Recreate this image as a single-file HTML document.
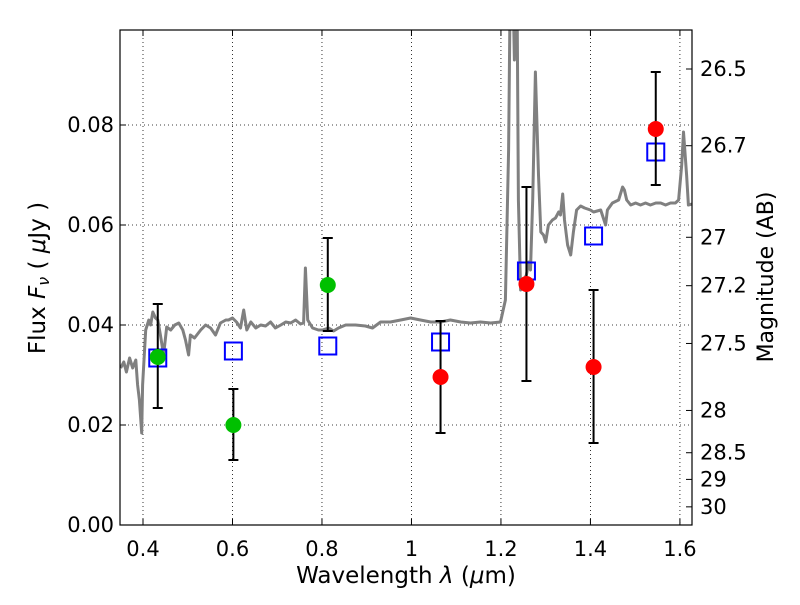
<!DOCTYPE html>
<html><head><meta charset="utf-8"><style>
body{margin:0;background:#fff}
svg text{font-family:"DejaVu Sans","Liberation Sans",sans-serif;fill:#000}
</style></head><body>
<svg id="chart" width="800" height="600" xmlns="http://www.w3.org/2000/svg">
<defs><clipPath id="clip"><rect x="120" y="30" width="572" height="495"/></clipPath></defs>
<rect x="0" y="0" width="800" height="600" fill="#fff"/>
<g id="grid"></g>
<g id="spec" clip-path="url(#clip)"></g>
<g id="marks" clip-path="url(#clip)"></g>
<rect x="120" y="30" width="572" height="495" fill="none" stroke="#000" stroke-width="1.2"/>
<g id="axes"></g>
<text x="406" y="583" text-anchor="middle" font-size="23">Wavelength  <tspan font-style="italic">λ</tspan> (<tspan font-style="italic">μ</tspan>m)</text>
<text transform="translate(45,278) rotate(-90)" text-anchor="middle" font-size="23">Flux  <tspan font-style="italic">F<tspan font-size="16" dy="4">ν</tspan></tspan><tspan dy="-4">  (  </tspan><tspan font-style="italic">μ</tspan>Jy )</text>
<text transform="translate(773,277) rotate(-90)" text-anchor="middle" font-size="22">Magnitude (AB)</text>
</svg>
<script>
const xTicks=[0.4,0.6,0.8,1,1.2,1.4,1.6];
const xTickLabels=["0.4","0.6","0.8","1","1.2","1.4","1.6"];
const yTicks=[0,0.02,0.04,0.06,0.08];
const yTickLabels=["0.00","0.02","0.04","0.06","0.08"];
const magTicks=[26.5,26.7,27,27.2,27.5,28,28.5,29,30];
const magTickLabels=["26.5","26.7","27","27.2","27.5","28","28.5","29","30"];
const specWave=[0.350,0.357,0.363,0.370,0.377,0.384,0.388,0.392,0.397,0.399,0.406,0.413,0.417,0.422,0.428,0.433,0.439,0.446,0.453,0.462,0.471,0.480,0.489,0.495,0.502,0.506,0.515,0.529,0.540,0.551,0.562,0.573,0.585,0.591,0.600,0.609,0.618,0.625,0.632,0.641,0.652,0.663,0.674,0.685,0.696,0.708,0.719,0.730,0.741,0.752,0.759,0.763,0.768,0.779,0.792,0.801,0.815,0.826,0.837,0.853,0.875,0.897,0.913,0.931,0.953,0.976,0.998,1.020,1.043,1.065,1.087,1.110,1.132,1.154,1.177,1.199,1.210,1.217,1.222,1.224,1.230,1.235,1.239,1.244,1.251,1.257,1.262,1.266,1.271,1.277,1.284,1.289,1.295,1.300,1.306,1.315,1.322,1.329,1.333,1.338,1.342,1.349,1.356,1.362,1.369,1.378,1.387,1.400,1.407,1.423,1.434,1.438,1.449,1.463,1.472,1.476,1.481,1.490,1.501,1.512,1.523,1.534,1.546,1.557,1.568,1.579,1.590,1.597,1.604,1.608,1.615,1.619,1.628];
const specFlux=[.0314,.0326,.0306,.0334,.0314,.0330,.0280,.0250,.0184,.0280,.0390,.0410,.0400,.0426,.0414,.0410,.0380,.0340,.0396,.0390,.0400,.0404,.0390,.0370,.0340,.0380,.0374,.0390,.0400,.0394,.0380,.0404,.0410,.0410,.0414,.0406,.0394,.0430,.0390,.0406,.0394,.0400,.0398,.0406,.0394,.0400,.0406,.0404,.0410,.0402,.0404,.0514,.0410,.0394,.0390,.0390,.0394,.0388,.0394,.0400,.0400,.0398,.0394,.0406,.0406,.0410,.0414,.0410,.0406,.0406,.0410,.0406,.0404,.0406,.0404,.0406,.0450,.0750,.1200,.1200,.0930,.1200,.0650,.0470,.0490,.0500,.0526,.0510,.0650,.0906,.0700,.0586,.0580,.0566,.0600,.0610,.0614,.0626,.0620,.0662,.0610,.0560,.0540,.0586,.0630,.0638,.0634,.0630,.0626,.0630,.0600,.0630,.0644,.0650,.0676,.0670,.0650,.0640,.0644,.0640,.0644,.0640,.0644,.0644,.0640,.0644,.0644,.0650,.0720,.0786,.0700,.0640,.0642];
const greenWave=[0.433,0.602,0.813];
const greenFlux=[0.0336,0.0200,0.0480];
const greenErrLo=[0.0234,0.0130,0.0388];
const greenErrHi=[0.0442,0.0272,0.0574];
const redWave=[1.065,1.257,1.407,1.546];
const redFlux=[0.0296,0.0482,0.0316,0.0792];
const redErrLo=[0.0184,0.0288,0.0164,0.0680];
const redErrHi=[0.0408,0.0676,0.0470,0.0906];
const modelWave=[0.433,0.602,0.813,1.065,1.257,1.407,1.546];
const modelFlux=[0.0334,0.0348,0.0358,0.0366,0.0508,0.0578,0.0746];

const NS="http://www.w3.org/2000/svg";
const X0=120,X1=692,Y0=525,Y1=30,xmin=0.3486,xmax=1.627,ymin=0,ymax=0.099;
const sx=v=>X0+(v-xmin)/(xmax-xmin)*(X1-X0);
const sy=v=>Y0-(v-ymin)/(ymax-ymin)*(Y0-Y1);
const magToFlux=m=>Math.pow(10,(23.9-m)/2.5);
function mk(tag,attrs,parent){const e=document.createElementNS(NS,tag);for(const k in attrs)e.setAttribute(k,attrs[k]);parent.appendChild(e);return e;}
const grid=document.getElementById('grid'),axes=document.getElementById('axes'),spec=document.getElementById('spec'),marks=document.getElementById('marks');
xTicks.forEach((t,i)=>{const x=sx(t);
 let g=mk('line',{x1:x,x2:x,y1:Y1,y2:Y0,stroke:'#000','stroke-width':0.8,'stroke-dasharray':'1,3'},grid);
 
 
 mk('line',{x1:x,x2:x,y1:Y0,y2:Y0-6,stroke:'#000'},axes);
 mk('line',{x1:x,x2:x,y1:Y1,y2:Y1+6,stroke:'#000'},axes);
 let l=mk('text',{x:x,y:Y0+31,'text-anchor':'middle','font-size':21},axes);l.textContent=xTickLabels[i];
 
 });
yTicks.forEach((t,i)=>{const y=sy(t);
 let g=mk('line',{x1:X0,x2:X1,y1:y,y2:y,stroke:'#000','stroke-width':0.8,'stroke-dasharray':'1,3'},grid);
 
 
 mk('line',{x1:X0,x2:X0+6,y1:y,y2:y,stroke:'#000'},axes);
 let l=mk('text',{x:X0-6,y:y+7,'text-anchor':'end','font-size':21},axes);l.textContent=yTickLabels[i];
 
 });
magTicks.forEach((m,i)=>{const y=sy(magToFlux(m));
 mk('line',{x1:X1,x2:X1-6,y1:y,y2:y,stroke:'#000'},axes);
 let l=mk('text',{x:X1+8,y:y+7,'font-size':21},axes);l.textContent=magTickLabels[i];
 
 });
let d=specWave.map((w,i)=>(i?'L':'M')+sx(w).toFixed(1)+','+sy(specFlux[i]).toFixed(1)).join('');
let sp=mk('path',{d:d,fill:'none',stroke:'#808080','stroke-width':3,'stroke-linejoin':'round'},spec);


modelWave.forEach((w,i)=>{
 let r=mk('rect',{x:sx(w)-8.5,y:sy(modelFlux[i])-8.5,width:17,height:17,fill:'none',stroke:'#0000ff','stroke-width':2},marks);
 
 });
function pts(W,F,L,H,col,name){W.forEach((w,i)=>{const x=sx(w);
 let e=mk('g',{},marks);
 
 
 mk('line',{x1:x,x2:x,y1:sy(L[i]),y2:sy(H[i]),stroke:'#000','stroke-width':2},e);
 mk('line',{x1:x-5,x2:x+5,y1:sy(L[i]),y2:sy(L[i]),stroke:'#000','stroke-width':2},e);
 mk('line',{x1:x-5,x2:x+5,y1:sy(H[i]),y2:sy(H[i]),stroke:'#000','stroke-width':2},e);
 let c=mk('circle',{cx:x,cy:sy(F[i]),r:8,fill:col},marks);
 
 });}
pts(greenWave,greenFlux,greenErrLo,greenErrHi,'#00c000','optical');
pts(redWave,redFlux,redErrLo,redErrHi,'#ff0000','infrared');
</script>
</body></html>
